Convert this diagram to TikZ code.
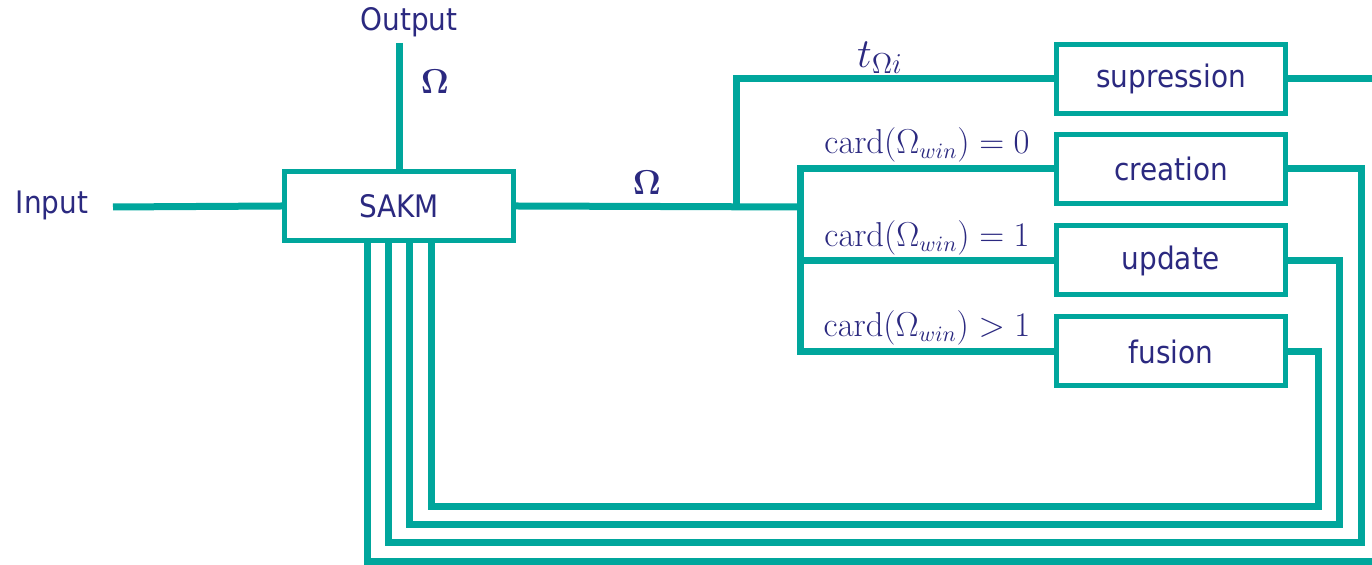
\documentclass[tikz,border=0pt]{standalone}
\usepackage{amssymb,amsmath}
\usepackage[no-math]{fontspec}
\setmainfont{DejaVu Sans Condensed}
\usepackage{tikz}
\definecolor{linecol}{RGB}{0,166,156}
\definecolor{textcol}{RGB}{43,41,128}

\begin{document}
\begin{tikzpicture}[x=0.5pt, y=-0.5pt,
    every node/.style={text=textcol, font=\fontsize{15.5}{18}\selectfont},
    block/.style={draw=linecol, line width=2.5pt, fill=white,
        minimum width=114.5pt, minimum height=34.5pt, inner sep=0pt},
    wire/.style={draw=linecol, line width=3.5pt},
    lbl/.style={font=\fontsize{16}{19}\selectfont}]
    \useasboundingbox (0,0) rectangle (1372,565);
    \coordinate (inend) at (113,207);
    \coordinate (outend) at (399,43);
    \coordinate (split) at (736,207);
    \coordinate (bus) at (800,207);
    \coordinate (fbsup) at (1400,562);
    \coordinate (fbcre) at (1361,543);
    \coordinate (fbupd) at (1339,525);
    \coordinate (fbfus) at (1318,507);
    \node (input) at (52,205) {Input};
    \node (output) at (409,22) {Output};
    \node[block] (sakm) at (399,206) {SAKM};
    \node[block] (sup) at (1171,79) {supression};
    \node[block] (cre) at (1171,169) {creation};
    \node[block] (upd) at (1171,260.5) {update};
    \node[block] (fus) at (1171,351.5) {fusion};
    \node[lbl] (om1) at (435,82) {$\mathbf{\Omega}$};
    \node[lbl] (om2) at (647,183) {$\mathbf{\Omega}$};
    \node[lbl, font=\fontsize{20}{24}\selectfont] (tom) at (880,58) {$t_{\Omega i}$};
    \node[lbl] (c0) at (927,145) {$\mathrm{card}(\Omega_{win}) = 0$};
    \node[lbl] (c1) at (927,238) {$\mathrm{card}(\Omega_{win}) = 1$};
    \node[lbl] (c2) at (927,328) {$\mathrm{card}(\Omega_{win}) > 1$};
    \draw[wire] (inend) -- (sakm.west);
    \draw[wire] (outend) -- (sakm.north);
    \draw[wire] (sakm.east) -- (bus);
    \draw[wire] (split) |- (sup.west);
    \draw[wire] (cre.west) -| (bus |- fus.west) -- (fus.west);
    \draw[wire] (bus |- upd.west) -- (upd.west);
    \draw[wire] (sup.east) -| (fbsup) -| ([xshift=-16pt]sakm.south);
    \draw[wire] (cre.east) -| (fbcre) -| ([xshift=-5.5pt]sakm.south);
    \draw[wire] (upd.east) -| (fbupd) -| ([xshift=5pt]sakm.south);
    \draw[wire] (fus.east) -| (fbfus) -| ([xshift=16pt]sakm.south);
\end{tikzpicture}
\end{document}
